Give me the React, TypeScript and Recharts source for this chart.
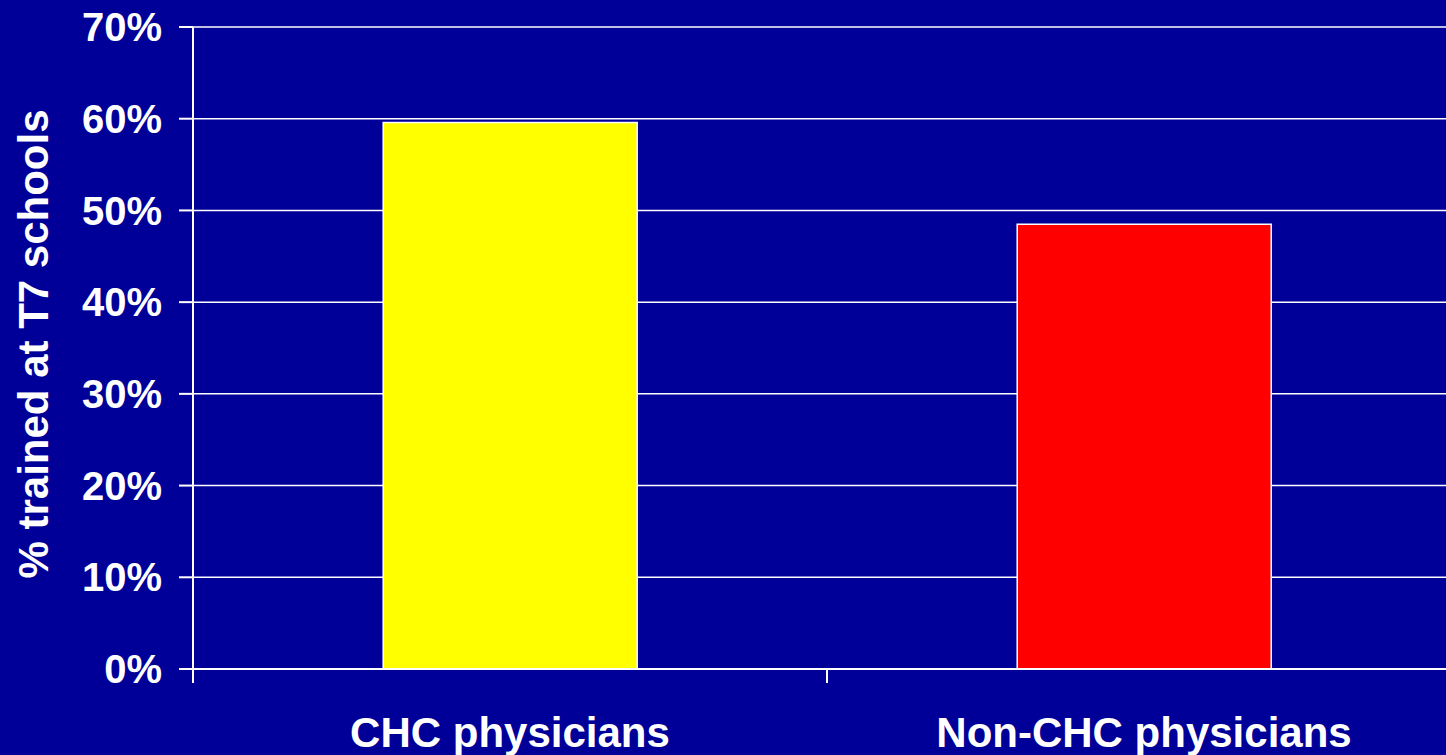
import { Bar, BarChart, CartesianGrid, Cell, XAxis, YAxis } from "recharts"

const categories = ["CHC physicians", "Non-CHC physicians"]
const trainedShare = [0.596, 0.485]
const barColors = ["#ffff00", "#ff0000"]
const yTicks = [0, 0.1, 0.2, 0.3, 0.4, 0.5, 0.6, 0.7]

const data = categories.map((name, i) => ({ name, value: trainedShare[i] }))

const BG = "#000099"
const FONT = "'Liberation Sans', Arial, Helvetica, sans-serif"

const CHART_W = 1461
const CHART_H = 755
const Y_AXIS_W = 193
const HALF_BAND = (CHART_W - Y_AXIS_W) / categories.length / 2

// Excel-style: tick marks sit between categories, label stays centred
const CategoryTick = ({ x, y, payload }: any) => (
  <g>
    <line
      x1={x - HALF_BAND}
      x2={x - HALF_BAND}
      y1={y}
      y2={y + 14}
      stroke="#fff"
      strokeWidth={2}
    />
    <text
      x={x}
      y={y + 78}
      textAnchor="middle"
      fill="#fff"
      fontFamily={FONT}
      fontWeight="bold"
      fontSize={42}
    >
      {payload.value}
    </text>
  </g>
)

const YTitle = ({ viewBox }: any) => {
  const cx = 48
  const cy = viewBox.y + viewBox.height / 2 - 4
  return (
    <text
      x={cx}
      y={cy}
      transform={`rotate(-90, ${cx}, ${cy})`}
      textAnchor="middle"
      fill="#fff"
      fontFamily={FONT}
      fontWeight="bold"
      fontSize={42}
    >
      % trained at T7 schools
    </text>
  )
}

export default function App() {
  return (
    <div
      style={{
        position: "fixed",
        top: 0,
        left: 0,
        width: 1446,
        height: 755,
        overflow: "hidden",
        background: BG,
      }}
    >
      <BarChart
        width={CHART_W}
        height={CHART_H}
        data={data}
        margin={{ top: 27, right: 0, bottom: 0, left: 0 }}
        barCategoryGap="30%"
      >
        <CartesianGrid vertical={false} stroke="#fff" strokeWidth={1.5} />
        <XAxis
          dataKey="name"
          height={86}
          axisLine={{ stroke: "#fff", strokeWidth: 2 }}
          tickLine={false}
          tickSize={0}
          tickMargin={0}
          tick={<CategoryTick />}
          interval={0}
        />
        <YAxis
          width={Y_AXIS_W}
          domain={[0, 0.7]}
          ticks={yTicks}
          interval={0}
          tickFormatter={(v: number) => `${Math.round(v * 100)}%`}
          axisLine={{ stroke: "#fff", strokeWidth: 2 }}
          tickLine={{ stroke: "#fff", strokeWidth: 2 }}
          tickSize={14}
          tickMargin={17}
          tick={{ fill: "#fff", fontFamily: FONT, fontWeight: "bold", fontSize: 40 }}
          label={<YTitle />}
        />
        <Bar dataKey="value" stroke="#fff" strokeWidth={1.5} isAnimationActive={false}>
          {data.map((d, i) => (
            <Cell key={d.name} fill={barColors[i]} />
          ))}
        </Bar>
      </BarChart>
    </div>
  )
}
